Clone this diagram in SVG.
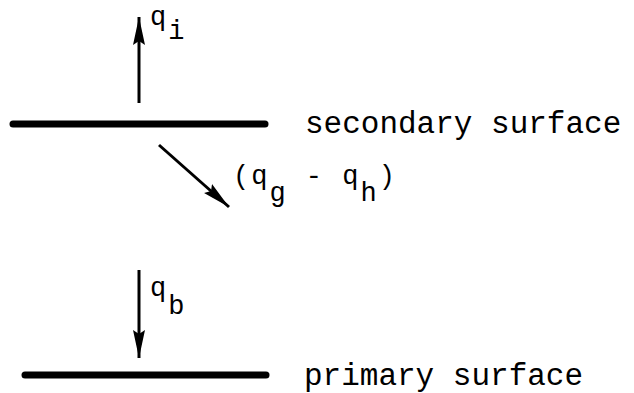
<svg xmlns="http://www.w3.org/2000/svg" width="634" height="393" viewBox="0 0 634 393">
<style>
.t{font-family:"Liberation Mono","Courier New",monospace;font-size:31px;fill:#000}
.l{font-family:"Liberation Mono","Courier New",monospace;font-size:27px;letter-spacing:2px;fill:#000}
.bar{stroke:#000;stroke-width:7;stroke-linecap:round}
.arr{stroke:#000;stroke-width:3;fill:none}
</style>
<defs>
<marker id="ah" markerUnits="userSpaceOnUse" markerWidth="30" markerHeight="16" refX="28" refY="6" orient="auto" viewBox="0 0 30 12">
<path d="M0,0 L28,6 L0,12 L4,6 Z" fill="#000"/>
</marker>
</defs>
<rect width="634" height="393" fill="#fff"/>
<g id="secondary-surface">
<line class="bar" x1="13" y1="124" x2="265" y2="124"/>
<text class="t" x="305" y="133">secondary surface</text>
</g>
<g id="primary-surface">
<line class="bar" x1="25" y1="375" x2="266" y2="375"/>
<text class="t" x="304" y="385">primary surface</text>
</g>
<g id="connectors">
<line class="arr" x1="139" y1="103" x2="139" y2="17" marker-end="url(#ah)"/>
<line class="arr" x1="159" y1="145" x2="229" y2="207" marker-end="url(#ah)"/>
<line class="arr" x1="139" y1="270" x2="139" y2="358" marker-end="url(#ah)"/>
</g>
<g id="label-qi">
<text class="l" x="150" y="25">q<tspan dy="14">i</tspan></text>
</g>
<g id="label-qg-qh">
<text class="l" x="233" y="184">(q<tspan dy="17">g</tspan><tspan dy="-17"> - q</tspan><tspan dy="17">h</tspan><tspan dy="-17">)</tspan></text>
</g>
<g id="label-qb">
<text class="l" x="150" y="296">q<tspan dy="18">b</tspan></text>
</g>
</svg>
